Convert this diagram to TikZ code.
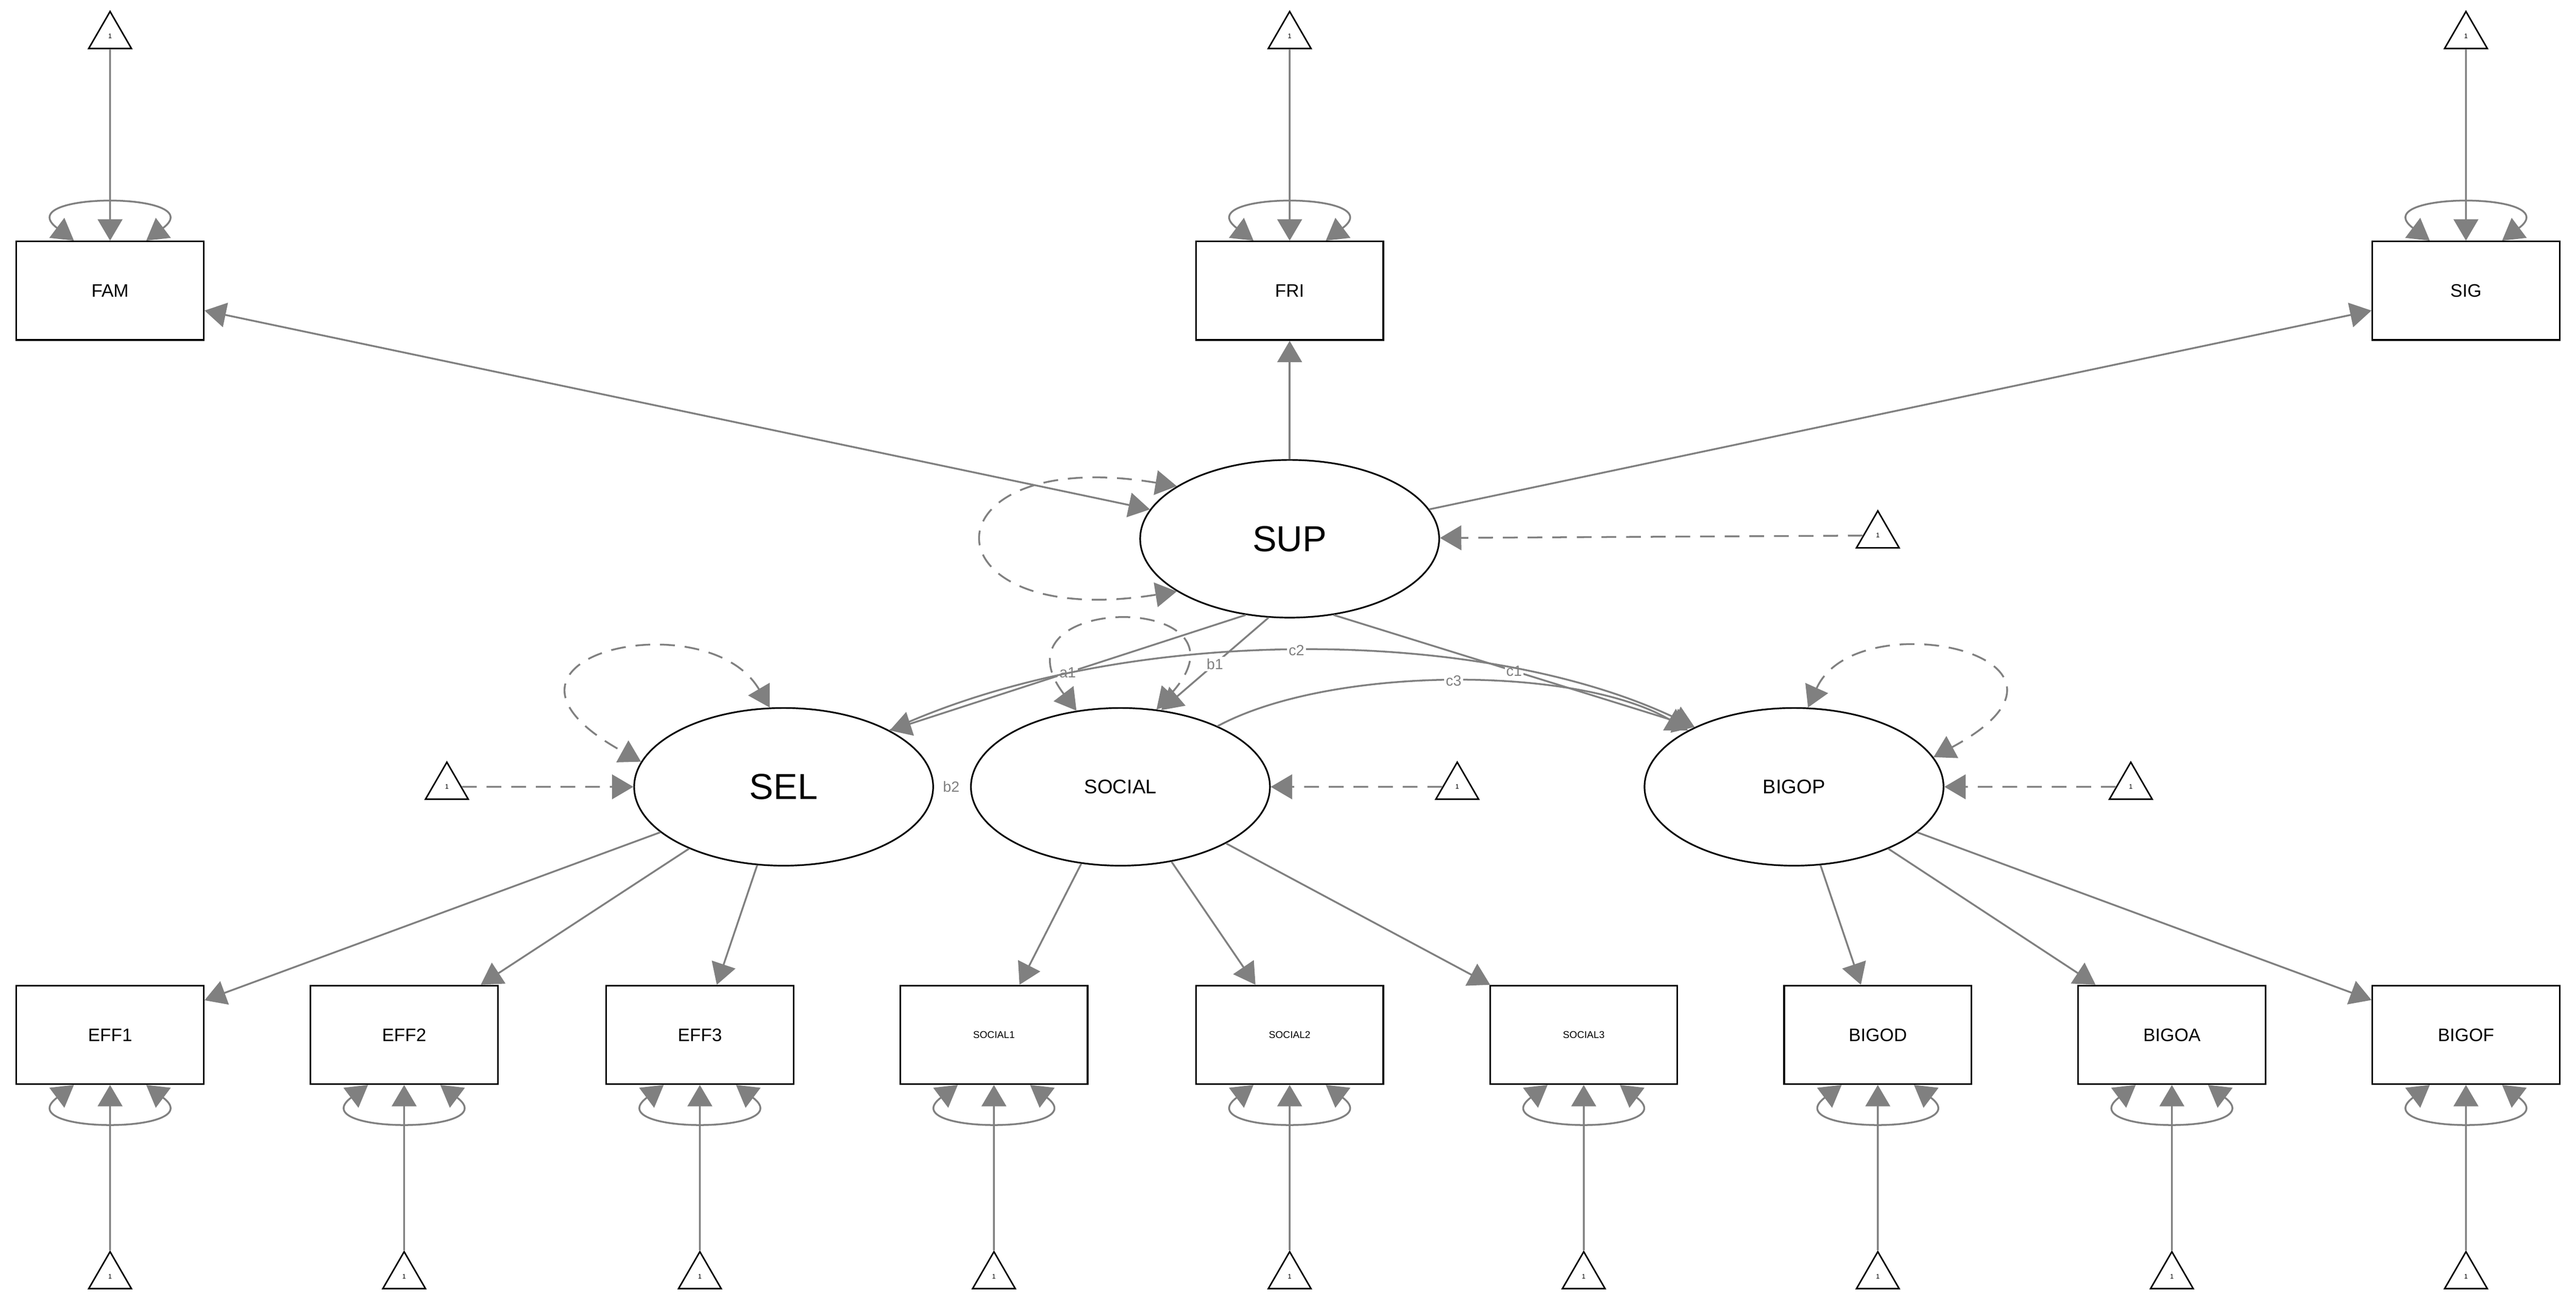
\documentclass[tikz,border=0pt]{standalone}
\usepackage{fontspec}
\setmainfont{Liberation Sans}
\usetikzlibrary{arrows.meta,shapes.geometric}
\begin{document}
\begin{tikzpicture}[x=1pt,y=1pt,
  box/.style={draw=black,line width=1pt,minimum width=114pt,minimum height=60pt,inner sep=0,font=\fontsize{11}{13}\selectfont},
  sbox/.style={box,font=\fontsize{6}{7}\selectfont},
  lat/.style={draw=black,line width=1pt,ellipse,minimum width=182pt,minimum height=96pt,inner sep=0},
  tri/.style={draw=black,line width=0.9pt,regular polygon,regular polygon sides=3,minimum size=30pt,inner sep=0,font=\fontsize{4}{4}\selectfont},
  ar/.style={draw=gray,line width=1.1pt,-{Triangle[length=13pt,width=15pt]}},
  bar/.style={draw=gray,line width=1.1pt,{Triangle[length=13pt,width=15pt]}-{Triangle[length=13pt,width=15pt]}},
  dar/.style={ar,dash pattern=on 9pt off 6pt},
  dbar/.style={bar,dash pattern=on 9pt off 6pt},
  lab/.style={fill=white,inner sep=1pt,text=gray,font=\fontsize{9}{10}\selectfont}]
\useasboundingbox (0,0) rectangle (1568,-798);
% top manifests
\node[box] (fam) at (67,-177) {FAM};
\node[box] (fri) at (785,-177) {FRI};
\node[box] (sig) at (1501,-177) {SIG};
\node[tri] (tfam) at (67,-22) {1};
\node[tri] (tfri) at (785,-22) {1};
\node[tri] (tsig) at (1501,-22) {1};
% latents
\node[lat,font=\fontsize{22}{24}\selectfont] (sup) at (785,-328) {SUP};
\node[lat,font=\fontsize{22}{24}\selectfont] (sel) at (477,-479) {SEL};
\node[lat,font=\fontsize{12}{14}\selectfont] (soc) at (682,-479) {SOCIAL};
\node[lat,font=\fontsize{12}{14}\selectfont] (big) at (1092,-479) {BIGOP};
\node[tri] (tsup) at (1143,-326) {1};
\node[tri] (tsel) at (272,-479) {1};
\node[tri] (tsoc) at (887,-479) {1};
\node[tri] (tbig) at (1297,-479) {1};
% bottom manifests
\foreach \n/\t/\x/\s in {e1/EFF1/67/box,e2/EFF2/246/box,e3/EFF3/426/box,s1/SOCIAL1/605/sbox,s2/SOCIAL2/785/sbox,s3/SOCIAL3/964/sbox,bd/BIGOD/1143/box,ba/BIGOA/1322/box,bf/BIGOF/1501/box}{
  \node[\s] (\n) at (\x,-630) {\t};
  \node[tri] (t\n) at (\x,-777) {1};
  \draw[ar] (t\n) -- (\n);
  \draw[bar] ([xshift=-22pt]\n.south) .. controls +(-40,-30) and +(40,-30) .. ([xshift=22pt]\n.south);
}
\foreach \n in {fam,fri,sig}{
  \draw[ar] (t\n) -- (\n);
  \draw[bar] ([xshift=-22pt]\n.north) .. controls +(-40,30) and +(40,30) .. ([xshift=22pt]\n.north);
}
% latent intercepts
\draw[dar] (tsup) -- (sup);
\draw[dar] (tsel) -- (sel);
\draw[dar] (tsoc) -- (soc);
\draw[dar] (tbig) -- (big);
% latent variances
\draw[dbar] (sup.155) .. controls (560,-270) and (560,-385) .. (sup.205);
\draw[dbar] (sel.100) .. controls (430,-365) and (275,-400) .. (sel.170);
\draw[dbar] (soc.120) .. controls (600,-360) and (770,-360) .. (soc.65);
\draw[dbar] (big.80) .. controls (1130,-365) and (1290,-400) .. (big.12);
% loadings
\draw[bar] (sup) -- (fam);
\draw[ar] (sup) -- (fri);
\draw[ar] (sup) -- (sig);
\draw[ar] (sel) -- (e1);
\draw[ar] (sel) -- (e2);
\draw[ar] (sel) -- (e3);
\draw[ar] (soc) -- (s1);
\draw[ar] (soc) -- (s2);
\draw[ar] (soc) -- (s3);
\draw[ar] (big) -- (bd);
\draw[ar] (big) -- (ba);
\draw[ar] (big) -- (bf);
% regressions
\draw[ar] (sup.240) -- node[lab] {a1} (sel.28);
\draw[ar] (sup.255) -- node[lab] {b1} (soc.62);
\draw[ar] (sup.300) -- node[lab] {c1} (big.149);
\draw[ar] (sel.28) .. controls (680,-380) and (900,-380) .. node[lab] {c2} (big.149);
\draw[ar] (soc.32) .. controls (810,-405) and (960,-405) .. node[lab] {c3} (big.152);
\node[lab] (b2) at (579,-479) {b2};
\end{tikzpicture}
\end{document}
